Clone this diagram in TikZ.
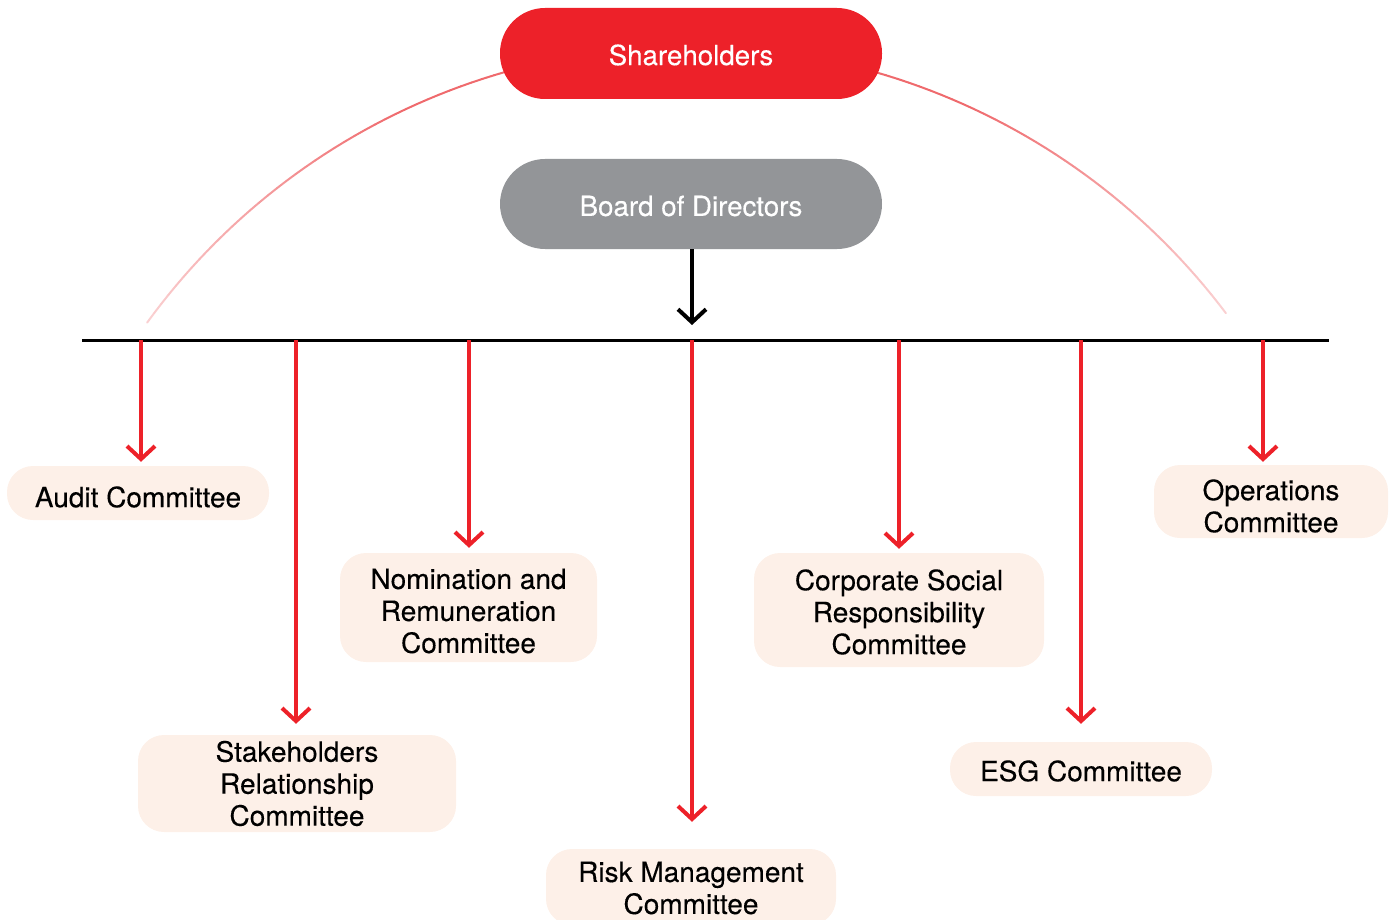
\documentclass[tikz,border=0pt]{standalone}
\usepackage{fontspec}
\setmainfont{TeX Gyre Heros}
\newfontfamily\medfont[FakeBold=0.25]{TeX Gyre Heros}
\usetikzlibrary{arrows.meta}
\definecolor{shred}{HTML}{ED2129}
\definecolor{bodgray}{HTML}{939598}
\definecolor{boxfill}{HTML}{FDF0E8}
\definecolor{arcdark}{HTML}{EF6A6D}
\definecolor{arclight}{HTML}{FAD0D1}
\tikzset{
  pill/.style={rectangle, rounded corners=45pt, minimum width=382pt, minimum height=91pt, inner sep=0pt},
  pilltext/.style={text=white, font=\medfont\fontsize{27.7}{32}\selectfont, inner sep=0pt},
  combox/.style={rectangle, fill=boxfill, rounded corners=26pt, inner sep=0pt},
  comtext/.style={align=center, inner sep=0pt, font=\medfont\fontsize{28}{32}\selectfont},
  redarrow/.style={draw=shred, line width=4pt, -{Straight Barb[length=13pt,width=28pt,line width=4pt]}},
  blackarrow/.style={draw=black, line width=4pt, -{Straight Barb[length=13pt,width=28pt,line width=4pt]}},
}
\begin{document}
\begin{tikzpicture}[x=1pt,y=-1pt]
\useasboundingbox (0,0) rectangle (1392,920);
% arc
\coordinate (arcc) at (690,717);
\foreach \a in {216,217,...,322}{
  \pgfmathsetmacro{\t}{min(1,min(\a-216,322-\a)/28)*100}
  \draw[line width=2pt, color=arcdark!\t!arclight, line cap=round] ([shift={(\a:671)}]arcc) -- ([shift={(\a+1:671)}]arcc);
}
% top nodes
\node[pill, fill=shred, label={[pilltext, yshift=-1.5pt]center:Shareholders}] (sh) at (691,53.5) {};
\node[pill, fill=bodgray, minimum height=90pt, label={[pilltext, yshift=-2pt]center:Board of Directors}] (bod) at (691,204) {};
% bar
\coordinate (barl) at (82,340);
\coordinate (barr) at (1329,340);
\draw[line width=3pt] (barl) -- (barr);
\coordinate (bar) at (692,340);
\draw[blackarrow, shorten >=15pt] (bod.south -| bar) -- (bar);
% committees
\node[combox, minimum width=262pt, minimum height=54pt, label={[comtext, yshift=-4pt]center:Audit Committee}] (audit) at (138,493) {};
\node[combox, minimum width=318pt, minimum height=97pt, label={[comtext]center:Stakeholders\\Relationship\\Committee}] (stake) at (297,783.5) {};
\node[combox, minimum width=257pt, minimum height=109pt, label={[comtext, yshift=-3.5pt]center:Nomination and\\Remuneration\\Committee}] (nom) at (468.5,607.5) {};
\node[combox, minimum width=290pt, minimum height=76pt, label={[comtext, yshift=-1pt]center:Risk Management\\Committee}] (risk) at (691,887) {};
\node[combox, minimum width=290pt, minimum height=114pt, label={[comtext, yshift=-2pt]center:Corporate Social\\Responsibility\\Committee}] (csr) at (899,610) {};
\node[combox, minimum width=262pt, minimum height=54pt, label={[comtext, yshift=-2pt]center:ESG Committee}] (esg) at (1081,769) {};
\node[combox, minimum width=234pt, minimum height=73pt, label={[comtext, yshift=-4.5pt]center:Operations\\Committee}] (ops) at (1271,501.5) {};
% arrow start points
\coordinate (p1) at (141,340);
\coordinate (p2) at (296,340);
\coordinate (p3) at (469,340);
\coordinate (p4) at (692,340);
\coordinate (p5) at (899,340);
\coordinate (p6) at (1081,340);
\coordinate (p7) at (1263,340);
\draw[redarrow, shorten >=4pt] (p1) -- (p1 |- audit.north);
\draw[redarrow, shorten >=11pt] (p2) -- (p2 |- stake.north);
\draw[redarrow, shorten >=5pt] (p3) -- (p3 |- nom.north);
\draw[redarrow, shorten >=27pt] (p4) -- (p4 |- risk.north);
\draw[redarrow, shorten >=4pt] (p5) -- (p5 |- csr.north);
\draw[redarrow, shorten >=18pt] (p6) -- (p6 |- esg.north);
\draw[redarrow, shorten >=3pt] (p7) -- (p7 |- ops.north);
\end{tikzpicture}
\end{document}
